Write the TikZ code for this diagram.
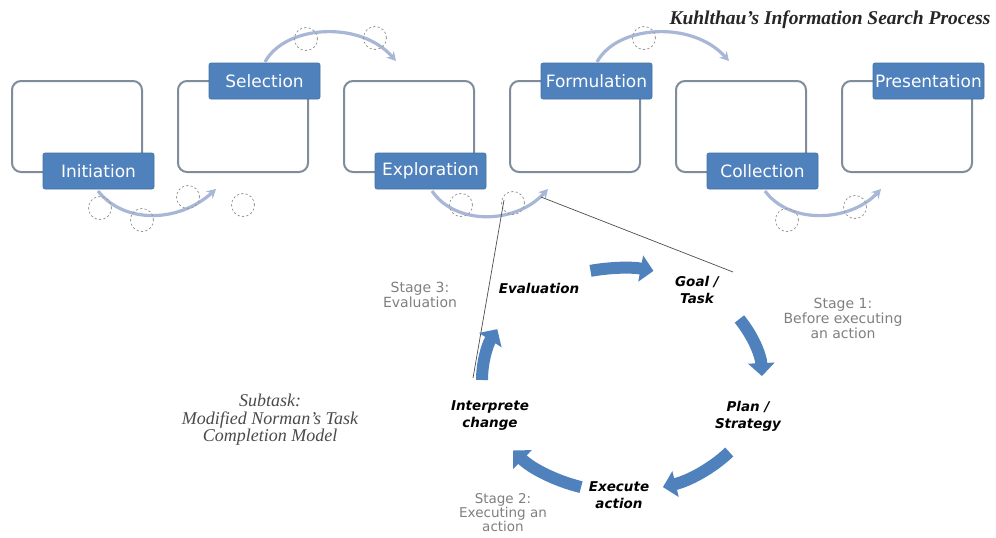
\documentclass[tikz,border=0pt]{standalone}
\usepackage{fontspec}
\setmainfont{Liberation Serif}
\newfontfamily\vsans{DejaVu Sans}
\usetikzlibrary{arrows.meta,calc}
\definecolor{boxline}{HTML}{7F8C9C}
\definecolor{labfill}{HTML}{4F81BD}
\definecolor{labline}{HTML}{41709F}
\definecolor{arcc}{HTML}{A8B7D6}
\definecolor{dashc}{HTML}{9A9A9A}
\definecolor{stagec}{HTML}{7F7F7F}
\definecolor{subc}{HTML}{4A4A4A}
\definecolor{cycc}{HTML}{4F81BD}
\begin{document}
\begin{tikzpicture}[x=1pt,y=-1pt,
  stagebox/.style={draw=boxline, line width=2pt, rounded corners=9pt, fill=white,
    minimum width=130pt, minimum height=91pt, inner sep=0pt},
  stagelab/.style={fill=labfill, draw=labline, line width=0.6pt, rounded corners=2pt,
    minimum width=111pt, minimum height=36pt, inner sep=0pt, text=white,
    font=\vsans\fontsize{17}{20}\selectfont},
  kuharc/.style={draw=arcc, line width=3.2pt, -{Stealth[length=9pt,width=10pt]}},
  dcirc/.style={draw=dashc, line width=0.8pt, dash pattern=on 2.2pt off 2.2pt, circle,
    minimum size=23pt, inner sep=0pt},
  cyc/.style={draw=cycc, line width=12pt, -{Triangle[length=13pt,width=26pt]}},
  cyclab/.style={align=center, font=\vsans\bfseries\itshape\fontsize{13.5}{17}\selectfont},
  stagetxt/.style={align=center, text=stagec, font=\vsans\fontsize{14}{15}\selectfont},
  zoomline/.style={draw=black!70, line width=0.7pt}]
\useasboundingbox (0,0) rectangle (996,538);
% boxes
\node[stagebox] (b1) at (77,126.5) {};
\node[stagebox] (b2) at (243,126.5) {};
\node[stagebox] (b3) at (409,126.5) {};
\node[stagebox] (b4) at (575,126.5) {};
\node[stagebox] (b5) at (741,126.5) {};
\node[stagebox] (b6) at (907,126.5) {};
% labels
\node[stagelab] (l1) at (98.5,171) {Initiation};
\node[stagelab] (l2) at (264.5,81) {Selection};
\node[stagelab] (l3) at (430.5,171) {Exploration};
\node[stagelab] (l4) at (596.5,81) {Formulation};
\node[stagelab] (l5) at (762.5,171) {Collection};
\node[stagelab] (l6) at (928.5,81) {Presentation};
% title
\node[anchor=east, font=\bfseries\itshape\fontsize{19.5}{22}\selectfont, text=black!85] (title) at (994,20) {Kuhlthau's Information Search Process};
% arcs between stages
\coordinate (a1s) at (98,191); \coordinate (a1e) at (216,189);
\coordinate (a2s) at (265,62); \coordinate (a2e) at (396,61);
\coordinate (a3s) at (432,191); \coordinate (a3e) at (548,189);
\coordinate (a4s) at (597,62); \coordinate (a4e) at (729,61);
\coordinate (a5s) at (765,191); \coordinate (a5e) at (881,189);
\draw[kuharc] (a1s) .. controls (125,225) and (180,222) .. (a1e);
\draw[kuharc] (a2s) .. controls (285,25) and (360,20) .. (a2e);
\draw[kuharc] (a3s) .. controls (455,225) and (515,225) .. (a3e);
\draw[kuharc] (a4s) .. controls (617,25) and (692,20) .. (a4e);
\draw[kuharc] (a5s) .. controls (790,225) and (850,222) .. (a5e);
% dashed circles
\node[dcirc] (c1) at (100,208) {};
\node[dcirc] (c2) at (142,220) {};
\node[dcirc] (c3) at (188,197) {};
\node[dcirc] (c4) at (243,205) {};
\node[dcirc] (c5) at (306,39) {};
\node[dcirc] (c6) at (375,38) {};
\node[dcirc] (c7) at (461,205) {};
\node[dcirc] (c8) at (513,203) {};
\node[dcirc] (c9) at (644,38) {};
\node[dcirc] (c10) at (787,220) {};
\node[dcirc] (c11) at (855,207) {};
% zoom lines
\coordinate (z1) at (504,200);
\coordinate (z2) at (473,378);
\coordinate (z3) at (541,197);
\coordinate (z4) at (733,272);
\draw[zoomline] (z1) -- (z2);
\draw[zoomline] (z3) -- (z4);
% cycle
\coordinate (C) at (622,380);
\draw[cyc] ($(C)+(-103:140 and 112)$) arc[start angle=-103, end angle=-77, x radius=140, y radius=112];
\draw[cyc] ($(C)+(-33:140 and 112)$) arc[start angle=-33, end angle=-2, x radius=140, y radius=112];
\draw[cyc] ($(C)+(40:140 and 112)$) arc[start angle=40, end angle=73, x radius=140, y radius=112];
\draw[cyc] ($(C)+(107:140 and 112)$) arc[start angle=107, end angle=141, x radius=140, y radius=112];
\draw[cyc] ($(C)+(180:140 and 112)$) arc[start angle=180, end angle=207, x radius=140, y radius=112];
\node[cyclab] (eval) at (539,288) {Evaluation};
\node[cyclab] (goal) at (697,290) {Goal /\\Task};
\node[cyclab] (plan) at (748,416) {Plan /\\Strategy};
\node[cyclab] (exec) at (619,495) {Execute\\action};
\node[cyclab] (interp) at (490,416) {Interprete\\change};
% stage texts
\node[stagetxt] (s3) at (420,295) {Stage 3:\\Evaluation};
\node[stagetxt] (s1) at (843,318) {Stage 1:\\Before executing\\an action};
\node[stagetxt, font=\vsans\fontsize{13.5}{14}\selectfont] (s2) at (503,513) {Stage 2:\\Executing an\\action};
% subtask
\node[align=center, text=subc, font=\itshape\fontsize{18}{17.5}\selectfont] (sub) at (270,420) {Subtask:\\Modified Norman's Task\\Completion Model};
\end{tikzpicture}
\end{document}
